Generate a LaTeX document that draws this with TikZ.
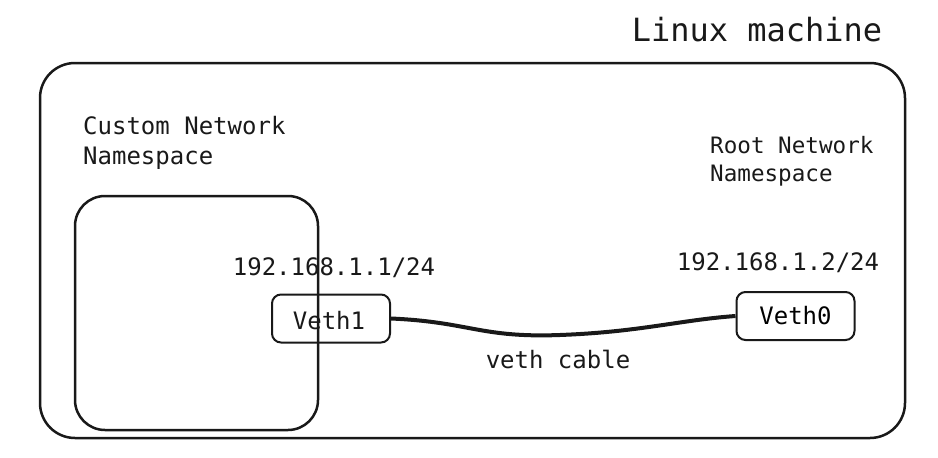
\documentclass[tikz,border=0pt]{standalone}
\usepackage{fontspec}
\setmonofont{DejaVu Sans Mono}
\begin{document}
\begin{tikzpicture}[x=1pt,y=-1pt,
  box/.style={draw=black!90,line width=2.5pt,rounded corners=#1,inner sep=0pt},
  port/.style={draw=black!90,line width=2pt,rounded corners=9pt,inner sep=0pt,
    minimum width=118pt,minimum height=48pt,font=\fontsize{24}{28}\selectfont\ttfamily},
  lbl/.style={inner sep=0pt,font=\fontsize{24}{30}\selectfont\ttfamily,text=black!90}]
\useasboundingbox (0,0) rectangle (938,458);
\node[box=35pt,minimum width=865pt,minimum height=375pt] (machine) at (472.5,250.5) {};
\node[box=30pt,minimum width=243pt,minimum height=234pt] (custom) at (196.5,313) {};
\node[port,fill=white,fill opacity=0] (veth1) at (331,318.5) {};
\node[port] (veth0) at (795.5,316) {Veth0};
\node[lbl] (v1txt) at (329,321) {Veth1};
\draw[line width=4pt,black!90] (veth1.east) .. controls (470,322) and (480,338) .. (560,335)
  .. controls (640,332) and (680,320) .. (veth0.west);
\node[lbl,font=\fontsize{32}{36}\selectfont\ttfamily] (title) at (757,30) {Linux machine};
\node[lbl,anchor=north west,align=left] (customlbl) at (83,116) {Custom Network\\Namespace};
\node[lbl,anchor=north west,align=left,font=\fontsize{22.6}{28}\selectfont\ttfamily] (rootlbl) at (710,136) {Root Network\\Namespace};
\node[lbl] (ip1) at (334,268) {192.168.1.1/24};
\node[lbl] (ip2) at (778,263) {192.168.1.2/24};
\node[lbl] (cable) at (558,359) {veth cable};
\end{tikzpicture}
\end{document}
